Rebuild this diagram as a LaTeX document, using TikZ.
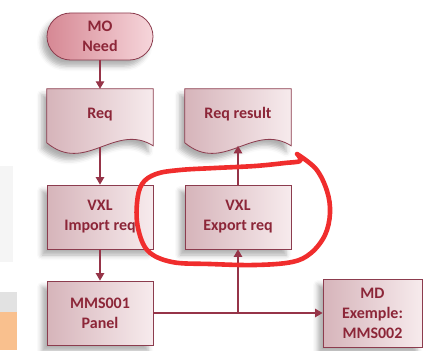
\documentclass[tikz,border=0pt]{standalone}
\usepackage{fontspec}
\setmainfont{Carlito}
\usetikzlibrary{arrows.meta,shadows.blur,calc}
\pgfdeclarelayer{background}
\pgfsetlayers{background,main}

\definecolor{bord}{RGB}{140,60,78}
\definecolor{txt}{RGB}{140,38,56}
\definecolor{boxL}{RGB}{214,180,186}
\definecolor{boxM}{RGB}{240,222,225}
\definecolor{boxR}{RGB}{247,235,237}
\definecolor{termL}{RGB}{214,136,148}
\definecolor{termR}{RGB}{246,214,219}
\definecolor{conn}{RGB}{150,52,72}
\definecolor{pen}{RGB}{240,45,45}
\definecolor{orng}{RGB}{249,192,142}
\definecolor{gbar}{RGB}{226,226,226}

\begin{document}
\begin{tikzpicture}[x=1pt,y=-1pt,
  lbl/.style={font=\fontsize{16}{20}\selectfont\bfseries, text=txt, align=center},
  shd/.style={blur shadow={shadow xshift=-5pt,shadow yshift=-6pt,shadow blur radius=5pt,shadow opacity=32}},
  procbox/.style={lbl, shd, draw=bord, line width=0.8pt, left color=boxL, middle color=boxM, right color=boxR,
                  minimum width=106pt, minimum height=64pt, inner sep=0pt},
  termbox/.style={lbl, shd, draw=bord, line width=0.8pt, left color=termL, right color=termR,
                  rounded corners=23.5pt, minimum width=106pt, minimum height=47pt, inner sep=0pt},
  docbox/.style={lbl, minimum width=106pt, minimum height=51pt, inner sep=0pt},
  docshape/.style={shd, draw=bord, line width=0.8pt, left color=boxL, middle color=boxM, right color=boxR},
  link/.style={draw=conn, line width=1.1pt, -{Triangle[length=7.5pt,width=8.5pt]}},
  penline/.style={draw=pen, line width=4.6pt, line cap=round, line join=round},
]
\useasboundingbox (0,0) rectangle (427,350);

% left-edge background pieces
\fill[black!4] (0,166) rectangle (13,262);
\fill[gbar] (0,292) rectangle (17,312);
\fill[orng] (0,312) rectangle (17,350);

% nodes
\node[termbox] (mo) at (100,36.5) {MO\\Need};
\node[docbox] (req) at (100,114.5) {Req};
\node[docbox] (rr) at (238,114.5) {Req result};
\node[procbox] (imp) at (100,217) {VXL\\Import req};
\node[procbox] (exp) at (238,217) {VXL\\Export req};
\node[procbox] (mms) at (100,313) {MMS001\\Panel};
\node[procbox, minimum width=99pt, minimum height=68pt] (md) at (372.5,313) {MD\\Exemple:\\MMS002};

% document shapes
\begin{pgfonlayer}{background}
\foreach \d in {req,rr}{
  \path[docshape] (\d.north west) -- (\d.north east) -- ($(\d.north east)+(0,57)$)
     .. controls ($(\d.north east)+(-38,33)$) and ($(\d.north east)+(-68,86)$) .. ($(\d.north west)+(0,54)$) -- cycle;
}
\end{pgfonlayer}

\coordinate (reqw) at ($(req.north)+(0,58.5)$);
\coordinate (rrw) at ($(rr.north)+(0,57)$);
\coordinate (jn) at (exp.south |- mms.east);

% connectors
\draw[link] (mo.south) -- (req.north);
\draw[link] (reqw) -- (imp.north);
\draw[link] (imp.south) -- (mms.north);
\draw[link] (mms.east) -- (md.west);
\draw[link] (jn) -- (exp.south);
\draw[link] (exp.north) -- (rrw);

% hand-drawn red loop
\draw[penline] plot[smooth, tension=0.6] coordinates {
  (297,154) (316,169) (327,191) (330,213) (325,235) (311,253) (292,262) (255,265) (210,264)
  (172,262) (148,251) (138,228) (137,203) (142,184) (156,174) (180,170) (215,168) (255,166)
  (285,163) (300,161) (298,155)};
\end{tikzpicture}
\end{document}
